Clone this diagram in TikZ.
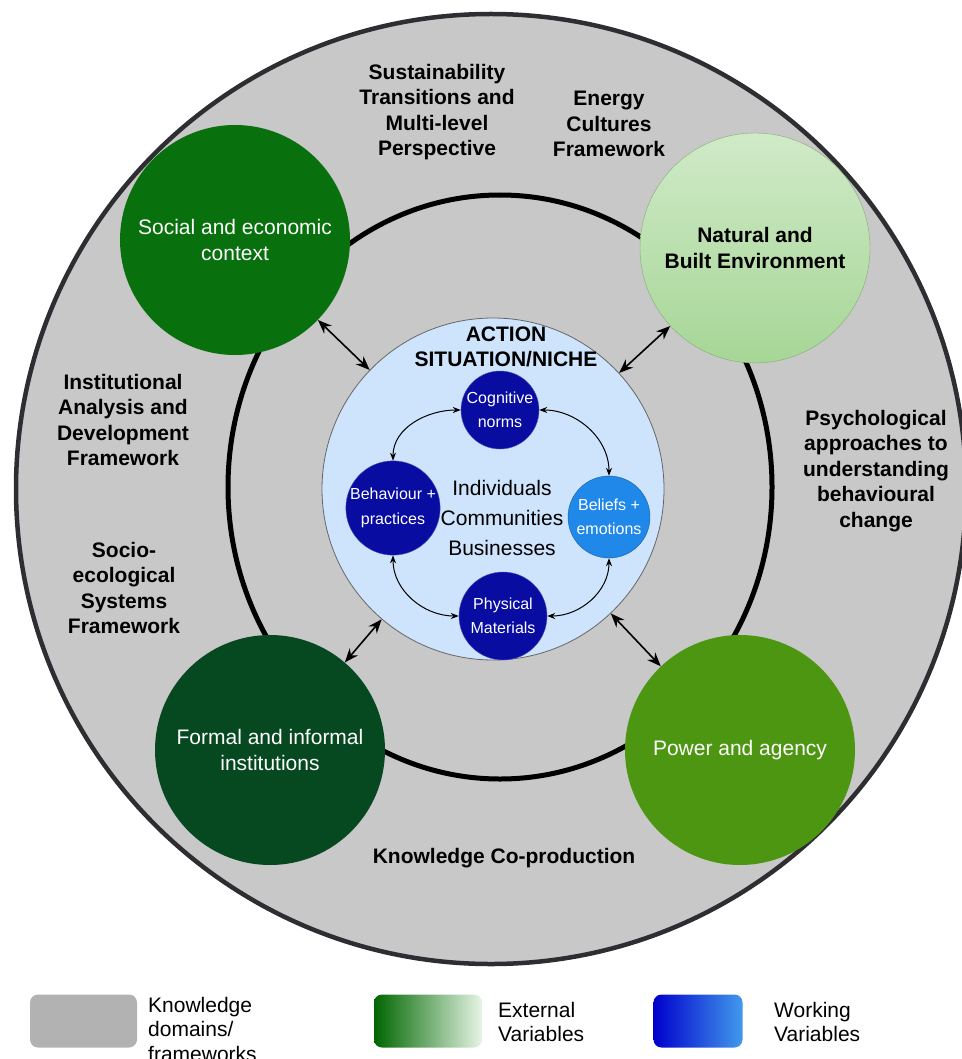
\documentclass[tikz,border=0pt]{standalone}
\usepackage{fontspec}
\setmainfont{Liberation Sans}
\usetikzlibrary{arrows.meta}

\definecolor{kgray}{RGB}{200,200,200}
\definecolor{rimgray}{RGB}{45,45,50}
\definecolor{socgreen}{RGB}{8,112,12}
\definecolor{instgreen}{RGB}{6,72,32}
\definecolor{powgreen}{RGB}{76,150,18}
\definecolor{natlight}{RGB}{208,234,200}
\definecolor{natdark}{RGB}{166,214,150}
\definecolor{actblue}{RGB}{206,228,252}
\definecolor{navy}{RGB}{8,12,160}
\definecolor{skyblue}{RGB}{32,136,232}

\tikzset{
  extvar/.style={circle, minimum size=230pt, inner sep=0pt, align=center,
    font=\fontsize{21}{26}\selectfont},
  workvar/.style={circle, minimum size=#1, inner sep=0pt, align=center,
    fill=navy, draw=navy!70!white, text=white, font=\fontsize{16}{24.5}\selectfont},
  knowdomain/.style={align=center, font=\fontsize{21}{25.5}\selectfont\bfseries},
  link/.style={line width=1.6pt, {Stealth[length=14pt,width=11pt]}-{Stealth[length=14pt,width=11pt]}},
  flow/.style={line width=1pt, {Stealth[length=8pt,width=6pt]}-{Stealth[length=8pt,width=6pt]}},
  keybox/.style={rectangle, rounded corners=8pt, minimum height=53pt, inner sep=0pt},
  keytext/.style={anchor=west, inner sep=0pt, align=left, font=\fontsize{21}{24.5}\selectfont}
}

\begin{document}
\begin{tikzpicture}[x=1pt, y=-1pt, line join=bevel]
\useasboundingbox (0,0) rectangle (961,1059);

% knowledge domains
\draw[line width=4.5pt, draw=rimgray, fill=kgray] (491,489) circle[radius=475pt];
\draw[line width=5pt] (500,487) ellipse[x radius=272pt, y radius=292pt];

\node[knowdomain] (stmlp) at (437,112) {Sustainability\\Transitions and\\Multi-level\\Perspective};
\node[knowdomain] (ecf) at (609,124) {Energy\\Cultures\\Framework};
\node[knowdomain] (iad) at (123,420) {Institutional\\Analysis and\\Development\\Framework};
\node[knowdomain] (ses) at (124,588) {Socio-\\ecological\\Systems\\Framework};
\node[knowdomain] (psy) at (876,471) {Psychological\\approaches to\\understanding\\behavioural\\change};
\node[knowdomain] (kcp) at (504,858) {Knowledge Co-production};

% external variables
\node[extvar, fill=socgreen, text=white] (soc) at (235,240) {Social and economic\\context};
\node[extvar, top color=natlight, bottom color=natdark, draw=natdark!80!black,
  font=\fontsize{21}{26}\selectfont\bfseries] (nat) at (755,248) {Natural and\\Built Environment};
\node[extvar, fill=instgreen, text=white] (inst) at (270,750) {Formal and informal\\institutions};
\node[extvar, fill=powgreen, text=white] (pow) at (740,750) {Power and agency};

% action situation
\node[circle, minimum size=342pt, inner sep=0pt, fill=actblue, draw=gray!80!black, line width=0.8pt] (act) at (493,489) {};
\node[font=\fontsize{21}{25}\selectfont\bfseries, align=center] (acttitle) at (506,347) {ACTION\\SITUATION/NICHE};
\node[font=\fontsize{21}{30}\selectfont, align=center] (actors) at (502,518) {Individuals\\Communities\\Businesses};

% working variables
\node[workvar=78pt] (cog) at (500,410) {Cognitive\\norms};
\node[workvar=90pt] (beh) at (393,508) {Behaviour +\\practices};
\node[workvar=82pt, fill=skyblue, draw=skyblue!70!black] (bel) at (609,517) {Beliefs +\\emotions};
\node[workvar=88pt] (phy) at (503,616) {Physical\\Materials};

\draw[flow] (beh.north) to[out=90, in=180] (cog.west);
\draw[flow] (cog.east) to[out=0, in=90] (bel.north);
\draw[flow] (beh.south) to[out=-90, in=180] (phy.west);
\draw[flow] (phy.east) to[out=0, in=-90] (bel.south);

\draw[link] (soc) -- (act);
\draw[link] (nat) -- (act);
\draw[link] (inst) -- (act);
\draw[link] (pow) -- (act);

% legend
\node[keybox, minimum width=107pt, fill=gray!60] (kdom) at (83.5,1021) {};
\node[keybox, minimum width=108pt, left color=green!40!black, right color=green!60!black!10!white] (kext) at (428,1021) {};
\node[keybox, minimum width=89pt, left color=blue!80!black, right color=skyblue!85!white] (kwork) at (698,1021) {};
\node[keytext] (kdomtxt) at (148,1029) {Knowledge\\domains/\\frameworks};
\node[keytext] (kexttxt) at (498,1022) {External\\Variables};
\node[keytext] (kworktxt) at (774,1022) {Working\\Variables};

\end{tikzpicture}
\end{document}
